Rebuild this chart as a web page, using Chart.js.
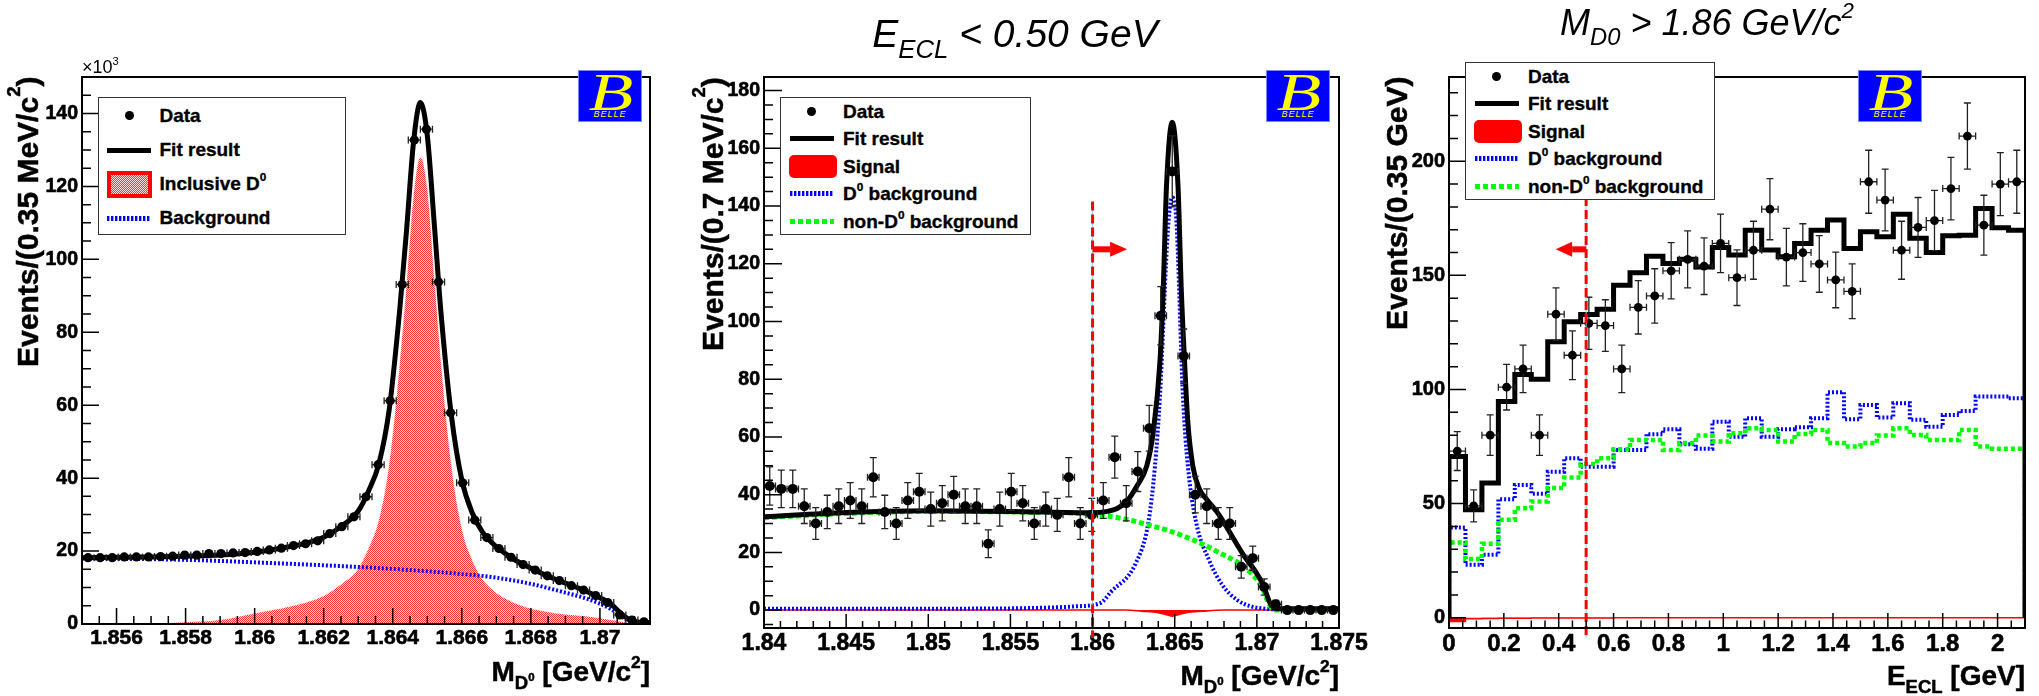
<!DOCTYPE html>
<html>
<head>
<meta charset="utf-8">
<script src="https://cdn.jsdelivr.net/npm/chart.js@4.4.1/dist/chart.umd.min.js"></script>
<style>
body { margin: 0; background: #fff; }
#page { position: relative; width: 2039px; height: 696px; overflow: hidden; font-family: "Liberation Sans", Arial, sans-serif; color: #000; }
canvas { position: absolute; top: 0; }
.lbl { position: absolute; white-space: nowrap; line-height: 1; }
.sub, .sup, .sup2 { line-height: 0; }
.sub { font-size: 0.66em; vertical-align: -0.42em; }
.sup { font-size: 0.62em; vertical-align: 0.75em; }
.sup2 { font-size: 0.62em; vertical-align: 0.7em; }
.ytitle { position: absolute; top: 77px; height: 430px; width: 34px; line-height: 34px; writing-mode: vertical-rl; transform: rotate(180deg); text-align: end; font-weight: bold; font-size: 30px; white-space: nowrap; -webkit-text-stroke: 0.5px #000; }
.xtitle { font-weight: bold; font-size: 28px; text-align: right; -webkit-text-stroke: 0.5px #000; }
.title { font-style: italic; text-align: center; }
.lg { position: absolute; background: #fff; border: 1.5px solid #333; box-sizing: border-box; }
.lg div { position: absolute; }
.lg .t { font-weight: bold; font-size: 19px; line-height: 20px; white-space: nowrap; -webkit-text-stroke: 0.35px #000; }
.dot { width: 9px; height: 9px; border-radius: 50%; background: #000; }
.fitbar { height: 5.5px; background: #000; }
.bluedot { height: 5px; background: repeating-linear-gradient(90deg, #0000ff 0 2px, #8fa0ff 2px 2.6px, transparent 2.6px 4px); }
.greendash { height: 5px; background: repeating-linear-gradient(90deg, #00ff00 0 5px, transparent 5px 8px); }
.sigbox { background: #ff0000; border-radius: 5px; }
.incbox { border: 4px solid #ff0000; box-sizing: border-box; background: repeating-conic-gradient(#ff3434 0 25%, #ffdcdc 0 50%) 0 0 / 2px 2px; }
.belle { position: absolute; top: 70px; width: 64px; height: 52px; background: #0000ff; border: 1px solid #6f8cff; box-sizing: border-box; overflow: hidden; }
.belle .bB { position: absolute; left: 16px; top: -8px; font: italic 52px "Liberation Serif", serif; color: #ffff00; transform: scaleX(1.4); }
.belle .bName { position: absolute; left: 0; right: 0; bottom: 2px; text-align: center; font: italic 9px "Liberation Sans", Arial; color: #ffff00; letter-spacing: 1px; }
</style>
</head>
<body>
<div id="page">
  <canvas id="cInc" width="690" height="696" style="left:0"></canvas>
  <canvas id="cMass" width="682" height="696" style="left:690px"></canvas>
  <canvas id="cEcl" width="667" height="696" style="left:1372px"></canvas>

  <!-- titles above panels 2 and 3 -->
  <div class="lbl title" style="left:815px; width:400px; top:14px; font-size:39px;">E<span class="sub">ECL</span> &lt; 0.50 GeV</div>
  <div class="lbl title" style="left:1507px; width:400px; top:5px; font-size:36px;">M<span class="sub">D0</span> &gt; 1.86 GeV/c<span class="sup">2</span></div>

  <div class="lbl" style="left:82px; top:58px; font-size:18px;">&times;10<span class="sup">3</span></div>

  <!-- axis titles -->
  <div class="ytitle" style="left:11px;">Events/(0.35 MeV/c<span class="sup">2</span>)</div>
  <div class="ytitle" style="left:696px;">Events/(0.7 MeV/c<span class="sup">2</span>)</div>
  <div class="ytitle" style="left:1380px;">Events/(0.35 GeV)</div>
  <div class="lbl xtitle" style="right:1389px; top:658px;">M<span class="sub">D<span class="sup2">0</span></span> [GeV/c<span class="sup">2</span>]</div>
  <div class="lbl xtitle" style="right:700px; top:662px;">M<span class="sub">D<span class="sup2">0</span></span> [GeV/c<span class="sup">2</span>]</div>
  <div class="lbl xtitle" style="right:14px; top:662px;">E<span class="sub">ECL</span> [GeV]</div>

  <!-- legends -->
  <div class="lg" style="left:97.5px; top:96.5px; width:248px; height:138px;">
    <div class="dot" style="left:26px; top:13.7px;"></div><div class="t" style="left:61px; top:8.2px;">Data</div>
    <div class="fitbar" style="left:8.5px; top:50px; width:44px;"></div><div class="t" style="left:61px; top:42.8px;">Fit result</div>
    <div class="incbox" style="left:8px; top:73.5px; width:45px; height:27px;"></div><div class="t" style="left:61px; top:76.2px;">Inclusive D<span class="sup">0</span></div>
    <div class="bluedot" style="left:8.5px; top:118.5px; width:44px;"></div><div class="t" style="left:61px; top:110.8px;">Background</div>
  </div>
  <div class="lg" style="left:780px; top:96.5px; width:251px; height:138.5px;">
    <div class="dot" style="left:26px; top:9.7px;"></div><div class="t" style="left:62px; top:4.2px;">Data</div>
    <div class="fitbar" style="left:9px; top:38.2px; width:44px;"></div><div class="t" style="left:62px; top:31px;">Fit result</div>
    <div class="sigbox" style="left:8px; top:57.8px; width:47.5px; height:23px;"></div><div class="t" style="left:62px; top:59px;">Signal</div>
    <div class="bluedot" style="left:9px; top:93.8px; width:44px;"></div><div class="t" style="left:62px; top:86.3px;">D<span class="sup">0</span> background</div>
    <div class="greendash" style="left:9px; top:121.7px; width:44px;"></div><div class="t" style="left:62px; top:114.2px;">non-D<span class="sup">0</span> background</div>
  </div>
  <div class="lg" style="left:1465px; top:61.5px; width:250px; height:138.5px;">
    <div class="dot" style="left:26px; top:9.7px;"></div><div class="t" style="left:62px; top:4.2px;">Data</div>
    <div class="fitbar" style="left:9px; top:38.2px; width:44px;"></div><div class="t" style="left:62px; top:31px;">Fit result</div>
    <div class="sigbox" style="left:8px; top:57.8px; width:47.5px; height:23px;"></div><div class="t" style="left:62px; top:59px;">Signal</div>
    <div class="bluedot" style="left:9px; top:93.8px; width:44px;"></div><div class="t" style="left:62px; top:86.3px;">D<span class="sup">0</span> background</div>
    <div class="greendash" style="left:9px; top:121.7px; width:44px;"></div><div class="t" style="left:62px; top:114.2px;">non-D<span class="sup">0</span> background</div>
  </div>

  <!-- experiment logos -->
  <div class="belle" style="left:578px;"><span class="bB">B</span><span class="bName">BELLE</span></div>
  <div class="belle" style="left:1266px;"><span class="bB">B</span><span class="bName">BELLE</span></div>
  <div class="belle" style="left:1858px;"><span class="bB">B</span><span class="bName">BELLE</span></div>
</div>

<script>
// ---- inclusive D0 mass (counts in units of 10^3) ----
const incBinLow = 1.855;
const incBinWidth = 0.00035;
const incCounts = [18.2, 18.2, 18.2, 18.4, 18.4, 18.4, 18.5, 18.6, 18.9, 18.9,
                   19.3, 19.3, 19.5, 19.6, 19.9, 20.3, 20.8, 21.5, 22.0, 22.8,
                   24.8, 26.7, 29.4, 34.9, 43.7, 61.2, 93.1, 132.7, 135.7, 93.8,
                   57.9, 38.7, 28.5, 23.7, 20.7, 18.3, 16.3, 14.8, 13.2, 11.9,
                   10.5, 9.3, 7.8, 5.9, 2.5, 1.1, 0.6];
const incFitX = [1.855, 1.856, 1.857, 1.858, 1.859, 1.860, 1.861, 1.8615, 1.862, 1.8625,
                 1.863, 1.8633, 1.8636, 1.8639, 1.8642, 1.8644, 1.8646, 1.8648, 1.865, 1.8652,
                 1.8654, 1.8657, 1.866, 1.8663, 1.8666, 1.867, 1.8675, 1.868, 1.8685, 1.869,
                 1.8695, 1.870, 1.8703, 1.8706, 1.8708, 1.871, 1.87145];
const incFitY = [18.2, 18.3, 18.4, 18.6, 18.9, 19.7, 21.2, 22.2, 23.8, 26.7,
                 31, 36.5, 44, 59, 86, 108, 132, 143, 134, 110,
                 85, 57, 39.5, 30.5, 25.2, 21.2, 17.8, 15.3, 13.1, 11.2,
                 9.4, 7.2, 5.6, 3, 1.5, 0.6, 0.4];
const incSigX = [1.855, 1.857, 1.858, 1.859, 1.860, 1.861, 1.862, 1.8625, 1.863, 1.8633,
                 1.8636, 1.8639, 1.8642, 1.8644, 1.8646, 1.8648, 1.865, 1.8652, 1.8654, 1.8657,
                 1.866, 1.8663, 1.8666, 1.867, 1.8675, 1.868, 1.8685, 1.869, 1.8695, 1.870,
                 1.8705, 1.871];
const incSigY = [0, 0.2, 0.5, 1.1, 2.9, 4.7, 7.7, 10.8, 15.2, 20.8,
                 28.5, 44, 71, 93, 117, 128, 119, 95, 71, 43,
                 26, 17.5, 12.2, 8.5, 5.8, 4.2, 3.3, 2.6, 2.2, 1.6,
                 0.8, 0];
const incBkgX = [1.855, 1.858, 1.860, 1.862, 1.864, 1.866, 1.867, 1.868, 1.869, 1.8695,
                 1.870, 1.8703, 1.8705, 1.8707, 1.8709, 1.87145];
const incBkgY = [18.0, 17.6, 16.9, 16.1, 15.1, 13.7, 12.7, 11.0, 8.6, 7.3,
                 5.6, 4.2, 3.0, 1.6, 0.3, 0];
const incXTicks = [1.856, 1.858, 1.86, 1.862, 1.864, 1.866, 1.868, 1.87];
const incYTicks = [0, 20, 40, 60, 80, 100, 120, 140];

// ---- D0 mass with E_ECL < 0.5 GeV ----
const massBinLow = 1.84;
const massBinWidth = 0.0007;
const massCounts = [43, 42, 42, 36, 30, 34, 36, 38, 36, 46,
                    34, 30, 38, 41, 35, 37, 40, 36, 36, 23,
                    35, 41, 37, 30, 35, 33, 46, 30, 33, 38,
                    53, 37, 48, 63, 102, 152, 88, 40, 36, 30,
                    30, 15, 18, 8, 2, 0, 0, 0, 0, 0];
const massErrors = [6.6, 6.5, 6.5, 6.0, 5.5, 5.8, 6.0, 6.2, 6.0, 6.8,
                    5.8, 5.5, 6.2, 6.4, 5.9, 6.1, 6.3, 6.0, 6.0, 4.8,
                    5.9, 6.4, 6.1, 5.5, 5.9, 5.7, 6.8, 5.5, 5.7, 6.2,
                    7.3, 6.1, 6.9, 7.9, 10.1, 12.3, 9.4, 6.3, 6.0, 5.5,
                    5.5, 3.9, 4.2, 2.8, 1.4, 0, 0, 0, 0, 0];
const massFitX = [1.840, 1.845, 1.850, 1.855, 1.860, 1.8609, 1.8615, 1.8621, 1.8627, 1.8633,
                  1.8637, 1.8641, 1.8643, 1.8645, 1.86485, 1.8652, 1.8654, 1.8656, 1.8658, 1.8661,
                  1.8665, 1.867, 1.8677, 1.8685, 1.8692, 1.8699, 1.8704, 1.8708, 1.8712, 1.875];
const massFitY = [32.3, 33.8, 34.4, 34.2, 33.7, 34.2, 35.2, 37.8, 43, 50,
                  62, 86, 111, 147, 169, 147, 111, 86, 65, 50,
                  42, 38, 33, 25.5, 19, 13.5, 8.5, 2.5, 0.5, 0.5];
const massD0X = [1.840, 1.850, 1.855, 1.8575, 1.859, 1.8605, 1.8611, 1.8626, 1.8634, 1.8638,
                 1.8641, 1.8646, 1.86485, 1.8651, 1.8655, 1.8658, 1.8663, 1.8671, 1.8679, 1.8688,
                 1.8697, 1.8705, 1.871, 1.875];
const massD0Y = [0.5, 0.5, 0.6, 0.9, 1.3, 2.5, 6.2, 15.9, 30.5, 50,
                 74, 133, 143, 135, 74, 50, 30.5, 17.2, 8.7, 3.5,
                 1.2, 0.5, 0.3, 0.3];
const massNonD0X = [1.840, 1.845, 1.850, 1.855, 1.860, 1.862, 1.8634, 1.8648, 1.8666, 1.8676,
                    1.8692, 1.8703, 1.8708, 1.8712, 1.875];
const massNonD0Y = [32, 33.5, 34.2, 34, 33.2, 31.5, 29.5, 27.2, 23.1, 20.2,
                    15, 8.1, 1.5, 0, 0];
const massSigX = [1.840, 1.862, 1.863, 1.864, 1.8645, 1.86485, 1.8652, 1.8657, 1.8667, 1.868, 1.875];
const massSigY = [0, 0, -0.4, -0.9, -1.6, -2.1, -1.6, -0.9, -0.4, 0, 0];
const massXTicks = [1.84, 1.845, 1.85, 1.855, 1.86, 1.865, 1.87, 1.875];
const massYTicks = [0, 20, 40, 60, 80, 100, 120, 140, 160, 180];
const massCut = 1.86;

// ---- E_ECL with M_D0 > 1.86 GeV/c^2 ----
const eclBinLow = 0;
const eclBinWidth = 0.06;
const eclCounts = [73, 49, 80, 101, 109, 80, 133, 115, 129, 128,
                   109, 136, 141, 152, 157, 154, 164, 149, 161, 179,
                   158, 160, 155, 148, 143, 191, 183, 161, 171, 174,
                   188, 211, 172, 190, 191];
const eclErrors = [8.5, 7.0, 8.9, 10.0, 10.4, 8.9, 11.5, 10.7, 11.4, 11.3,
                   10.4, 11.7, 11.9, 12.3, 12.5, 12.4, 12.8, 12.2, 12.7, 13.4,
                   12.6, 12.6, 12.4, 12.2, 12.0, 13.8, 13.5, 12.7, 13.1, 13.2,
                   13.7, 14.5, 13.1, 13.8, 13.8];
const eclFit = [70.6, 47.3, 59.0, 94.7, 106.6, 104.5, 120.9, 129.7, 132.9, 135.1,
                145.7, 151.1, 158.4, 155.2, 157.0, 153.7, 162.2, 158.9, 169.8, 161.1,
                158.1, 164.0, 169.8, 174.2, 161.8, 169.1, 166.9, 176.8, 166.2, 160.0,
                167.3, 167.6, 179.3, 170.8, 169.8];
const eclD0 = [39.5, 23.2, 27.6, 51.9, 58.2, 54.3, 64.0, 69.9, 66.2, 66.2,
               73.5, 73.5, 80.4, 82.6, 76.0, 74.0, 85.9, 79.3, 87.4, 79.3,
               82.6, 83.5, 87.4, 98.8, 87.0, 93.2, 87.7, 94.0, 86.7, 83.7,
               88.8, 90.6, 96.9, 96.9, 96.2];
const eclNonD0 = [33.0, 25.7, 32.4, 42.9, 48.0, 50.9, 56.8, 61.4, 67.3, 69.9,
                  73.8, 77.9, 77.9, 73.5, 76.5, 79.8, 77.2, 80.8, 83.0, 82.3,
                  77.2, 80.5, 82.3, 76.5, 75.0, 76.5, 79.8, 83.0, 80.1, 77.9,
                  77.9, 82.3, 75.0, 74.0, 74.0];
const eclSig = [-1.6, -0.4, -0.3, -0.2, -0.2, -0.1, -0.1, -0.1, -0.1, -0.1,
                0, 0, 0, 0, 0, 0, 0, 0, 0, 0,
                0, 0, 0, 0, 0, 0, 0, 0, 0, 0,
                0, 0, 0, 0, 0];
const eclXTicks = [0, 0.2, 0.4, 0.6, 0.8, 1, 1.2, 1.4, 1.6, 1.8, 2];
const eclYTicks = [0, 50, 100, 150, 200];
const eclCut = 0.5;


Chart.defaults.font.family = "'Liberation Sans', Arial, sans-serif";
Chart.defaults.color = '#000';

function pts(xs, ys){
    return xs.map((x, i) => ({x: x, y: ys[i]}));
}

function binPts(low, width, ys){
    return ys.map((y, i) => ({x: low + (i + 0.5) * width, y: y}));
}

// step outline of a histogram, closed down to zero at both ends
function histPts(low, width, ys){
    let p = [{x: low, y: 0}];
    ys.forEach((y, i) => p.push({x: low + i * width, y: y}));
    p.push({x: low + ys.length * width, y: ys[ys.length - 1]});
    p.push({x: low + ys.length * width, y: 0});
    return p;
}

function fmtNum(v){
    return String(Number(Number(v).toFixed(4)));
}

function axis(min, max, ticks, size, fit, horizontal){
    return {
        type: 'linear',
        min: min,
        max: max,
        afterBuildTicks: s => { s.ticks = ticks.map(v => ({value: v})); },
        afterFit: s => { if(horizontal){ s.height = fit; } else { s.width = fit; } },
        grid: {display: false, drawTicks: false},
        border: {display: false},
        ticks: {
            autoSkip: false,
            maxRotation: 0,
            padding: horizontal ? 2 : 4,
            color: '#000',
            textStrokeColor: '#000',
            textStrokeWidth: 0.6,
            font: {weight: 'bold', size: size},
            callback: fmtNum,
        },
    };
}

function dotPattern(){
    let c = document.createElement('canvas');
    c.width = 2; c.height = 2;
    let g = c.getContext('2d');
    g.fillStyle = '#ffd6d6';
    g.fillRect(0, 0, 2, 2);
    g.fillStyle = '#ff3030';
    g.fillRect(0, 0, 1, 1);
    g.fillRect(1, 1, 1, 1);
    return g.createPattern(c, 'repeat');
}

function drawErrors(chart, ds){
    const ctx = chart.ctx, xs = chart.scales.x, ys = chart.scales.y, a = chart.chartArea;
    const c = ds.cap;
    ctx.save();
    ctx.beginPath();
    ctx.rect(a.left, a.top, a.right - a.left, a.bottom - a.top);
    ctx.clip();
    ctx.strokeStyle = '#222';
    ctx.lineWidth = 1.3;
    ctx.beginPath();
    ds.data.forEach((p, i) => {
        const px = xs.getPixelForValue(p.x), py = ys.getPixelForValue(p.y);
        const xl = xs.getPixelForValue(p.x - ds.errX), xr = xs.getPixelForValue(p.x + ds.errX);
        ctx.moveTo(xl, py); ctx.lineTo(xr, py);
        ctx.moveTo(xl, py - c); ctx.lineTo(xl, py + c);
        ctx.moveTo(xr, py - c); ctx.lineTo(xr, py + c);
        if(ds.errY && ds.errY[i] > 0){
            const yt = ys.getPixelForValue(p.y + ds.errY[i]);
            const yb = ys.getPixelForValue(p.y - ds.errY[i]);
            ctx.moveTo(px, yt); ctx.lineTo(px, yb);
            ctx.moveTo(px - c, yt); ctx.lineTo(px + c, yt);
            ctx.moveTo(px - c, yb); ctx.lineTo(px + c, yb);
        }
    });
    ctx.stroke();
    ctx.restore();
}

// dashed selection line plus the arrow showing the kept side
function drawCut(chart, cut){
    const ctx = chart.ctx, xs = chart.scales.x, ys = chart.scales.y, a = chart.chartArea;
    const px = xs.getPixelForValue(cut.at);
    const top = ys.getPixelForValue(cut.from);
    const bottom = a.bottom + 10;
    ctx.save();
    ctx.strokeStyle = '#7fd0ff';
    ctx.lineWidth = 1;
    ctx.beginPath(); ctx.moveTo(px, top); ctx.lineTo(px, bottom); ctx.stroke();
    ctx.strokeStyle = '#ff0000';
    ctx.lineWidth = 3;
    ctx.setLineDash([9, 4]);
    ctx.beginPath(); ctx.moveTo(px, top); ctx.lineTo(px, bottom); ctx.stroke();
    ctx.setLineDash([]);
    const ay = ys.getPixelForValue(cut.arrowY);
    const tip = xs.getPixelForValue(cut.arrowTip), base = xs.getPixelForValue(cut.arrowBase);
    ctx.fillStyle = '#ff0000';
    ctx.fillRect(Math.min(px, base), ay - 3, Math.abs(base - px), 6);
    ctx.beginPath();
    ctx.moveTo(tip, ay);
    ctx.lineTo(base, ay - 7.5);
    ctx.lineTo(base, ay + 7.5);
    ctx.closePath();
    ctx.fill();
    ctx.restore();
}

function steps(min, max, step){
    let out = [];
    for(let n = Math.ceil(min / step - 1e-6); n <= Math.floor(max / step + 1e-6); n++){
        out.push(n * step);
    }
    return out;
}

// ROOT-like frame with inward major/minor ticks
const rootFrame = {
    id: 'rootFrame',
    beforeDatasetDraw(chart, args){
        const ds = chart.data.datasets[args.index];
        if(ds.errX){
            drawErrors(chart, ds);
        }
    },
    afterDatasetsDraw(chart, args, opts){
        const ctx = chart.ctx, a = chart.chartArea, xs = chart.scales.x, ys = chart.scales.y;
        if(opts.cut){
            drawCut(chart, opts.cut);
        }
        ctx.save();
        ctx.strokeStyle = '#000';
        ctx.lineWidth = 2;
        ctx.strokeRect(a.left, a.top, a.right - a.left, a.bottom - a.top);
        ctx.lineWidth = 1.5;
        ctx.beginPath();
        steps(xs.min, xs.max, opts.xMinor).forEach(v => {
            const px = xs.getPixelForValue(v);
            ctx.moveTo(px, a.bottom); ctx.lineTo(px, a.bottom - opts.xLen[1]);
        });
        opts.xMajor.forEach(v => {
            const px = xs.getPixelForValue(v);
            ctx.moveTo(px, a.bottom); ctx.lineTo(px, a.bottom - opts.xLen[0]);
        });
        steps(ys.min, ys.max, opts.yMinor).forEach(v => {
            const py = ys.getPixelForValue(v);
            ctx.moveTo(a.left, py); ctx.lineTo(a.left + opts.yLen[1], py);
        });
        opts.yMajor.forEach(v => {
            const py = ys.getPixelForValue(v);
            ctx.moveTo(a.left, py); ctx.lineTo(a.left + opts.yLen[0], py);
        });
        ctx.stroke();
        ctx.restore();
    }
};

function baseOptions(pad, scales, frame){
    return {
        responsive: false,
        animation: false,
        devicePixelRatio: 1,
        events: [],
        layout: {padding: pad},
        plugins: {legend: {display: false}, tooltip: {enabled: false}, rootFrame: frame},
        scales: scales,
    };
}

function curve(data, color, width, dash){
    return {
        data: data,
        borderColor: color,
        borderWidth: width,
        borderDash: dash || [],
        borderCapStyle: 'butt',
        pointRadius: 0,
        cubicInterpolationMode: 'monotone',
        fill: false,
    };
}

function dataPoints(data, halfWidth, errY, radius){
    return {
        data: data,
        showLine: false,
        pointRadius: radius,
        pointBackgroundColor: '#000',
        pointBorderWidth: 0,
        errX: halfWidth,
        errY: errY,
        cap: 3.5,
    };
}

// panel 1: inclusive D0
let incSignal = curve(pts(incSigX, incSigY), 'rgba(0,0,0,0)', 0);
incSignal.fill = 'origin';
incSignal.backgroundColor = dotPattern();

new Chart(document.getElementById('cInc'), {
    type: 'line',
    data: {datasets: [
        dataPoints(binPts(incBinLow, incBinWidth, incCounts), incBinWidth / 2, null, 4.6),
        curve(pts(incFitX, incFitY), '#000', 5),
        curve(pts(incBkgX, incBkgY), '#0000ff', 4, [2, 2]),
        incSignal,
    ]},
    options: baseOptions({left: 0, right: 40, top: 77, bottom: 0}, {
        x: axis(1.855, 1.87145, incXTicks, 21, 72, true),
        y: axis(0, 150, incYTicks, 19.5, 82, false),
    }, {xMajor: incXTicks, xMinor: 0.0005, xLen: [16, 8], yMajor: incYTicks, yMinor: 5, yLen: [17, 9]}),
    plugins: [rootFrame],
});

// panel 2: D0 mass after the E_ECL cut
let massSignal = curve(pts(massSigX, massSigY), '#ff0000', 1.5);
massSignal.fill = 'origin';
massSignal.backgroundColor = '#ff0000';

new Chart(document.getElementById('cMass'), {
    type: 'line',
    data: {datasets: [
        dataPoints(binPts(massBinLow, massBinWidth, massCounts), massBinWidth / 2, massErrors, 5),
        curve(pts(massFitX, massFitY), '#000', 5),
        curve(pts(massNonD0X, massNonD0Y), '#00ff00', 5, [5, 3]),
        curve(pts(massD0X, massD0Y), '#0000ff', 4, [2, 2]),
        massSignal,
    ]},
    options: baseOptions({left: 0, right: 33, top: 77, bottom: 0}, {
        x: axis(1.84, 1.875, massXTicks, 23, 68, true),
        y: axis(-6.2, 184.7, massYTicks, 19.5, 74, false),
    }, {xMajor: massXTicks, xMinor: 0.001, xLen: [14, 7], yMajor: massYTicks, yMinor: 5, yLen: [18, 9],
        cut: {at: massCut, from: 141.6, arrowY: 125, arrowTip: 1.8621, arrowBase: 1.86107}}),
    plugins: [rootFrame],
});

// panel 3: E_ECL after the mass cut
function hist(ys, color, width, dash){
    let d = curve(histPts(eclBinLow, eclBinWidth, ys), color, width, dash);
    d.cubicInterpolationMode = 'default';
    d.stepped = 'before';
    return d;
}
let eclSignal = hist(eclSig, '#ff0000', 1.5);
eclSignal.fill = 'origin';
eclSignal.backgroundColor = '#ff0000';

new Chart(document.getElementById('cEcl'), {
    type: 'line',
    data: {datasets: [
        dataPoints(binPts(eclBinLow, eclBinWidth, eclCounts), eclBinWidth / 2, eclErrors, 4.4),
        hist(eclFit, '#000', 5),
        hist(eclNonD0, '#00ff00', 4.5, [4, 3]),
        hist(eclD0, '#0000ff', 4, [2, 2]),
        eclSignal,
    ]},
    options: baseOptions({left: 0, right: 14, top: 77, bottom: 0}, {
        x: axis(0, 2.1, eclXTicks, 24, 68, true),
        y: axis(-4.5, 236.9, eclYTicks, 20, 77, false),
    }, {xMajor: eclXTicks, xMinor: 0.05, xLen: [15, 7.5], yMajor: eclYTicks, yMinor: 10, yLen: [17, 9],
        cut: {at: eclCut, from: 190, arrowY: 161.4, arrowTip: 0.389, arrowBase: 0.449}}),
    plugins: [rootFrame],
});
</script>
</body>
</html>
